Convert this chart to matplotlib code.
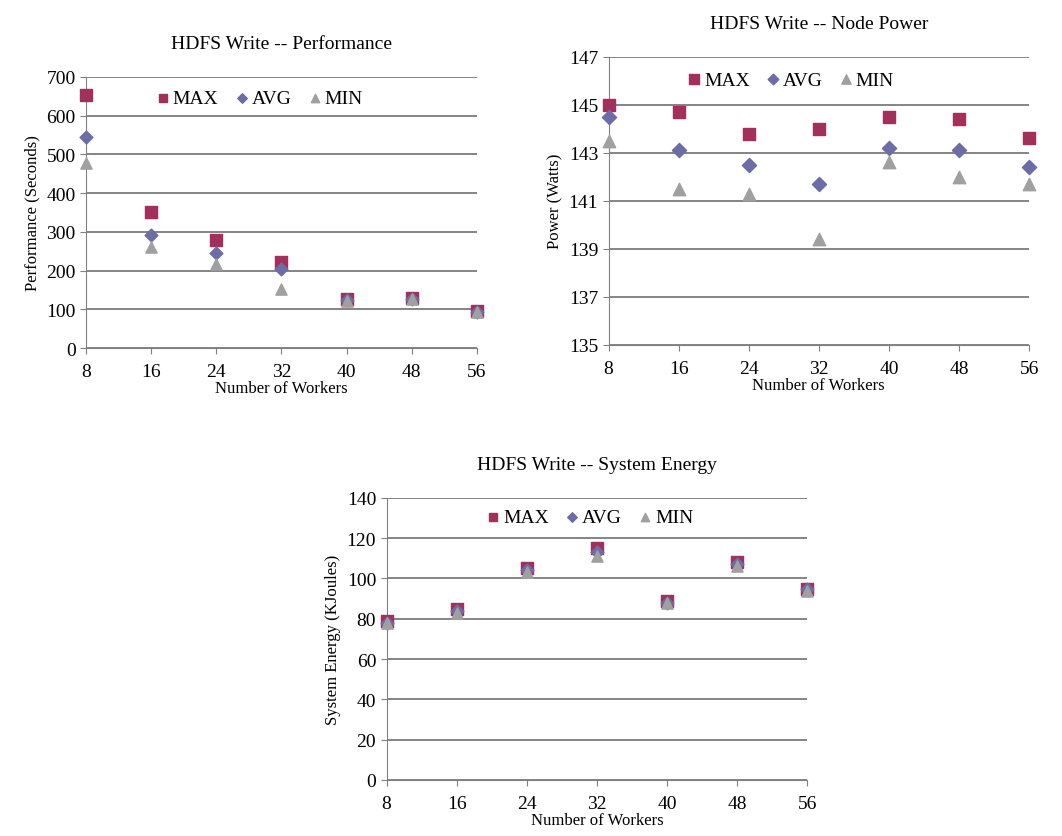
import matplotlib
matplotlib.use('Agg')
import matplotlib.pyplot as plt

plt.rcParams['font.family'] = ['Liberation Serif', 'DejaVu Serif']

workers = [8, 16, 24, 32, 40, 48, 56]

perf_max = [652, 350, 278, 222, 127, 128, 95]
perf_avg = [545, 293, 245, 205, 125, 127, 94]
perf_min = [478, 260, 218, 152, 122, 126, 93]

power_max = [145.0, 144.7, 143.8, 144.0, 144.5, 144.4, 143.6]
power_avg = [144.5, 143.1, 142.5, 141.7, 143.2, 143.1, 142.4]
power_min = [143.5, 141.5, 141.3, 139.4, 142.6, 142.0, 141.7]

energy_max = [79, 85, 105, 115, 89, 108, 95]
energy_avg = [78, 84, 104, 113, 88, 107, 95]
energy_min = [78, 83, 103, 111, 88, 106, 94]

c_max = '#a3305a'
c_avg = '#6c6ca6'
c_min = '#a0a0a0'


def scatter_panel(ax, ymax, yavg, ymin, title, ylabel, yticks, leg_anchor, msize=65):
    ax.scatter(workers, ymax, marker='s', s=msize, color=c_max, label='MAX', zorder=3, clip_on=False)
    ax.scatter(workers, yavg, marker='D', s=msize * 0.65, color=c_avg, label='AVG', zorder=4, clip_on=False)
    ax.scatter(workers, ymin, marker='^', s=msize, color=c_min, label='MIN', zorder=5, clip_on=False)
    ax.set_xlim(8, 56)
    ax.set_ylim(yticks[0], yticks[-1])
    ax.set_xticks(workers)
    ax.set_yticks(yticks)
    ax.yaxis.grid(True, color='#707070', linewidth=1.2)
    ax.set_axisbelow(True)
    for s in ['top', 'right']:
        ax.spines[s].set_visible(False)
    ax.spines['left'].set_color('#808080')
    ax.spines['bottom'].set_color('#808080')
    ax.tick_params(colors='#808080', labelcolor='black', labelsize=14, length=4)
    ax.tick_params(axis='x', pad=7)
    ax.set_title(title, fontsize=14, pad=21)
    ax.set_ylabel(ylabel, fontsize=12)
    ax.set_xlabel('Number of Workers', fontsize=12, labelpad=0)
    ax.legend(loc='center', bbox_to_anchor=leg_anchor, ncol=3, frameon=False,
              fontsize=14, handletextpad=0.0, handlelength=1.0, columnspacing=0.7,
              markerscale=0.75)


fig = plt.figure(figsize=(10.62, 8.37), dpi=100)

ax1 = fig.add_axes([0.081, 0.583, 0.368, 0.324])
scatter_panel(ax1, perf_max, perf_avg, perf_min, 'HDFS Write -- Performance',
              'Performance (Seconds)', [0, 100, 200, 300, 400, 500, 600, 700], (0.44, 0.92))

ax2 = fig.add_axes([0.573, 0.587, 0.396, 0.344])
scatter_panel(ax2, power_max, power_avg, power_min, 'HDFS Write -- Node Power',
              'Power (Watts)', [135, 137, 139, 141, 143, 145, 147], (0.43, 0.92), msize=80)

ax3 = fig.add_axes([0.364, 0.067, 0.396, 0.337])
scatter_panel(ax3, energy_max, energy_avg, energy_min, 'HDFS Write -- System Energy',
              'System Energy (KJoules)', [0, 20, 40, 60, 80, 100, 120, 140], (0.48, 0.93))

fig.savefig('out.png', dpi=100)
